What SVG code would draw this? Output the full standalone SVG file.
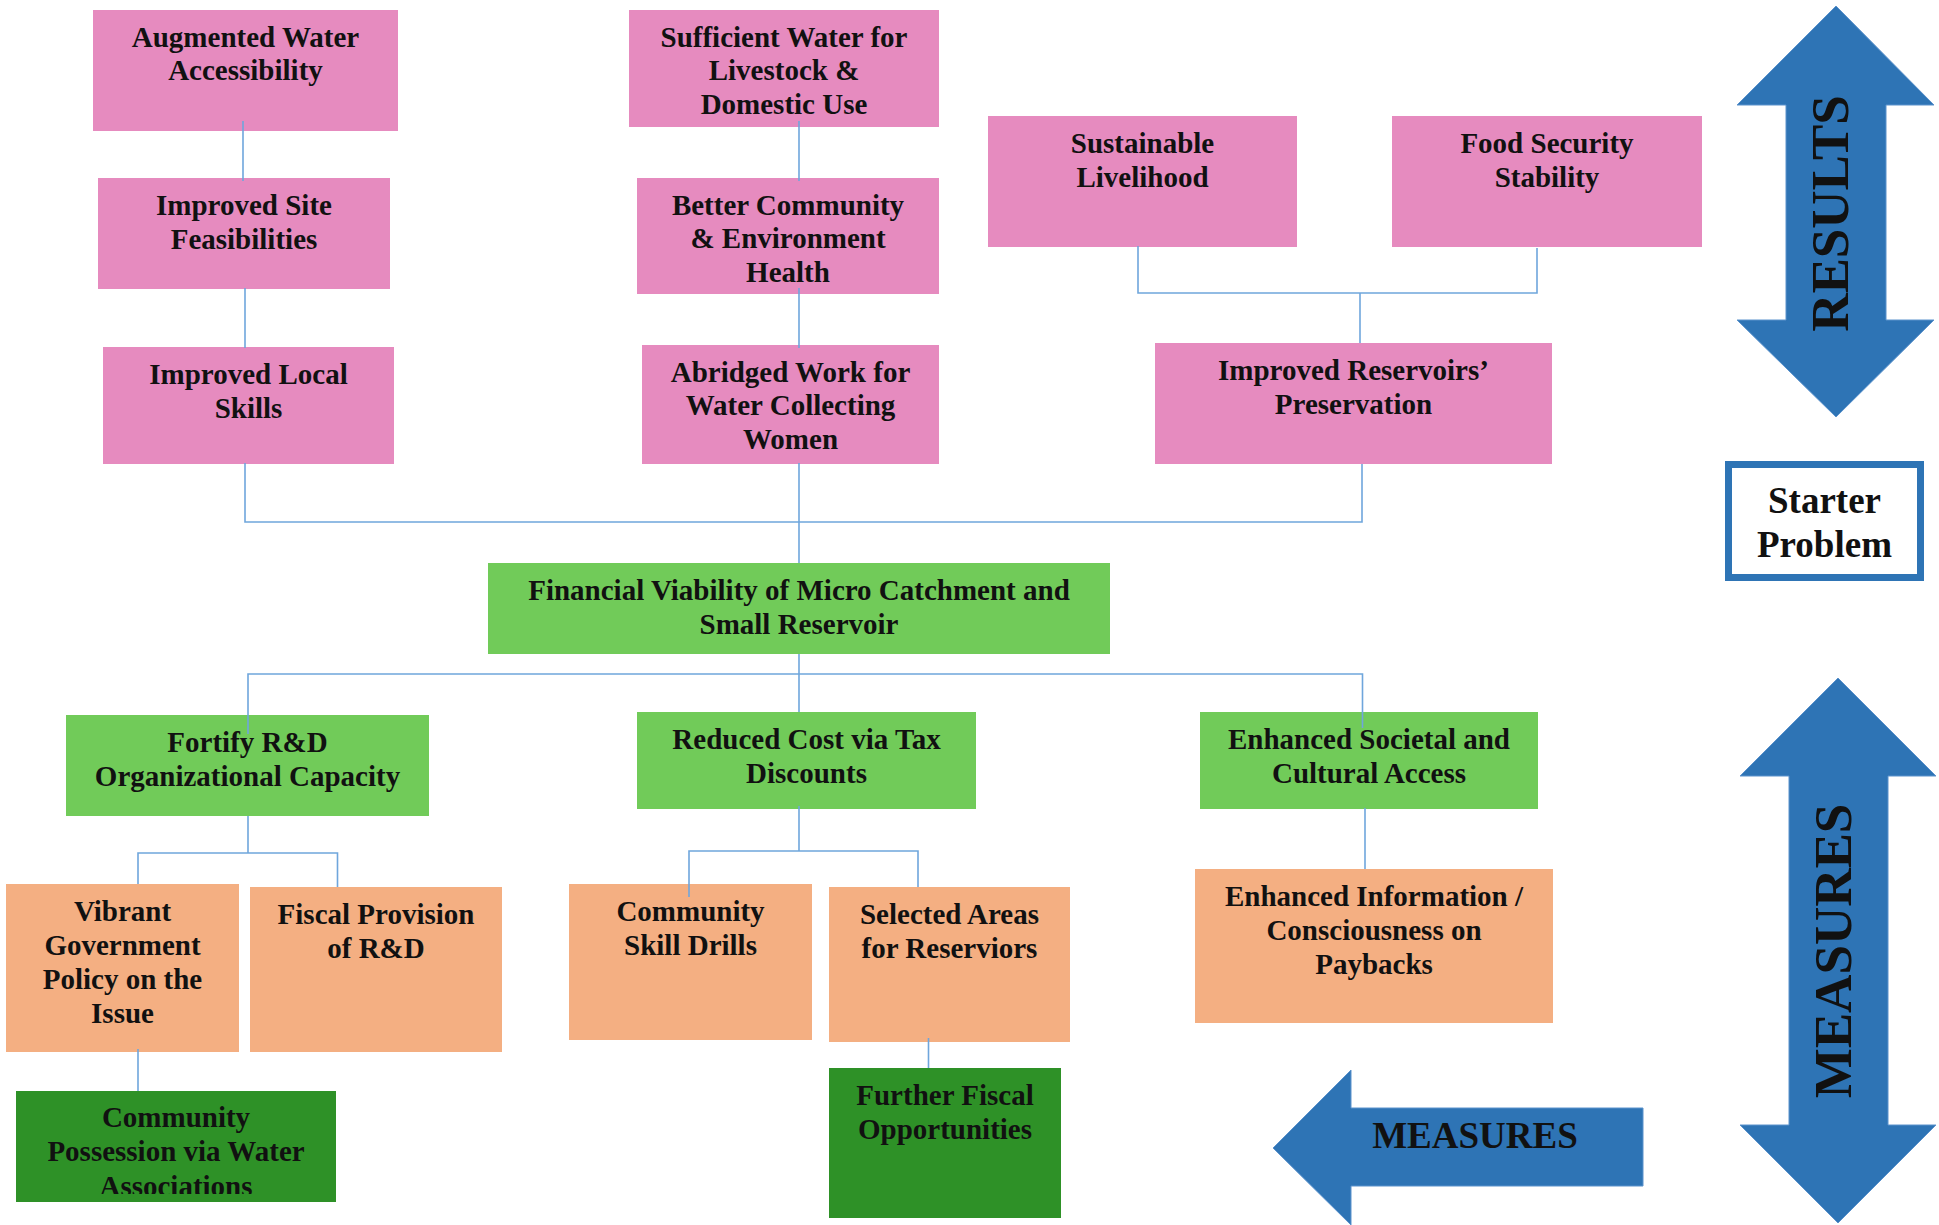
<svg xmlns="http://www.w3.org/2000/svg" width="1939" height="1225" viewBox="0 0 1939 1225">
  <style>
    .pink{fill:#E68BBF}
    .green{fill:#71CB59}
    .orange{fill:#F4AF82}
    .dgreen{fill:#2E9127}
    .lbl{font-family:"Liberation Serif","Times New Roman",serif;font-weight:bold;font-size:29px;fill:#111;text-anchor:middle}
    .arrow{fill:#2E74B5;stroke:#5B92CC;stroke-width:1}
    .big{font-family:"Liberation Serif","Times New Roman",serif;font-weight:bold;fill:#111;text-anchor:middle}
    .wire{fill:none;stroke:#6FA6DC;stroke-width:1.6}
  </style>
  <defs>
    <clipPath id="clipPossession"><rect x="16" y="1091" width="320" height="103"/></clipPath>
  </defs>
  <rect width="1939" height="1225" fill="#fff"/>

  <!-- results row -->
  <g id="augmented-water">
    <rect class="pink" x="93" y="10" width="305" height="121"/>
    <text class="lbl"><tspan x="245.5" y="46.5">Augmented Water</tspan><tspan x="245.5" y="80">Accessibility</tspan></text>
  </g>
  <g id="improved-site">
    <rect class="pink" x="98" y="178" width="292" height="111"/>
    <text class="lbl"><tspan x="244" y="214.5">Improved Site</tspan><tspan x="244" y="248.5">Feasibilities</tspan></text>
  </g>
  <g id="improved-skills">
    <rect class="pink" x="103" y="347" width="291" height="117"/>
    <text class="lbl"><tspan x="248.5" y="383.5">Improved Local</tspan><tspan x="248.5" y="417.5">Skills</tspan></text>
  </g>
  <g id="sufficient-water">
    <rect class="pink" x="629" y="10" width="310" height="117"/>
    <text class="lbl"><tspan x="784" y="46.5">Sufficient Water for</tspan><tspan x="784" y="80">Livestock &amp;</tspan><tspan x="784" y="113.5">Domestic Use</tspan></text>
  </g>
  <g id="better-community">
    <rect class="pink" x="637" y="178" width="302" height="116"/>
    <text class="lbl"><tspan x="788" y="214.5">Better Community</tspan><tspan x="788" y="248">&amp; Environment</tspan><tspan x="788" y="281.5">Health</tspan></text>
  </g>
  <g id="abridged-work">
    <rect class="pink" x="642" y="345" width="297" height="119"/>
    <text class="lbl"><tspan x="790.5" y="381.5">Abridged Work for</tspan><tspan x="790.5" y="415">Water Collecting</tspan><tspan x="790.5" y="448.5">Women</tspan></text>
  </g>
  <g id="sustainable-livelihood">
    <rect class="pink" x="988" y="116" width="309" height="131"/>
    <text class="lbl"><tspan x="1142.5" y="152.5">Sustainable</tspan><tspan x="1142.5" y="186.5">Livelihood</tspan></text>
  </g>
  <g id="food-security">
    <rect class="pink" x="1392" y="116" width="310" height="131"/>
    <text class="lbl"><tspan x="1547" y="152.5">Food Security</tspan><tspan x="1547" y="186.5">Stability</tspan></text>
  </g>
  <g id="reservoir-preservation">
    <rect class="pink" x="1155" y="343" width="397" height="121"/>
    <text class="lbl"><tspan x="1353.5" y="379.5">Improved Reservoirs’</tspan><tspan x="1353.5" y="413.5">Preservation</tspan></text>
  </g>

  <!-- core -->
  <g id="financial-viability">
    <rect class="green" x="488" y="563" width="622" height="91"/>
    <text class="lbl"><tspan x="799" y="599.5">Financial Viability of Micro Catchment and</tspan><tspan x="799" y="633.5">Small Reservoir</tspan></text>
  </g>

  <!-- measures -->
  <g id="fortify-rd">
    <rect class="green" x="66" y="715" width="363" height="101"/>
    <text class="lbl"><tspan x="247.5" y="751.5">Fortify R&amp;D</tspan><tspan x="247.5" y="785.5">Organizational Capacity</tspan></text>
  </g>
  <g id="reduced-cost">
    <rect class="green" x="637" y="712" width="339" height="97"/>
    <text class="lbl"><tspan x="806.5" y="748.5">Reduced Cost via Tax</tspan><tspan x="806.5" y="782.5">Discounts</tspan></text>
  </g>
  <g id="societal-access">
    <rect class="green" x="1200" y="712" width="338" height="97"/>
    <text class="lbl"><tspan x="1369" y="748.5">Enhanced Societal and</tspan><tspan x="1369" y="782.5">Cultural Access</tspan></text>
  </g>
  <g id="government-policy">
    <rect class="orange" x="6" y="884" width="233" height="168"/>
    <text class="lbl"><tspan x="122.5" y="920.5">Vibrant</tspan><tspan x="122.5" y="954.5">Government</tspan><tspan x="122.5" y="988.5">Policy on the</tspan><tspan x="122.5" y="1022.5">Issue</tspan></text>
  </g>
  <g id="fiscal-provision">
    <rect class="orange" x="250" y="887" width="252" height="165"/>
    <text class="lbl"><tspan x="376" y="923.5">Fiscal Provision</tspan><tspan x="376" y="957.5">of R&amp;D</tspan></text>
  </g>
  <g id="skill-drills">
    <rect class="orange" x="569" y="884" width="243" height="156"/>
    <text class="lbl"><tspan x="690.5" y="920.5">Community</tspan><tspan x="690.5" y="954.5">Skill Drills</tspan></text>
  </g>
  <g id="selected-areas">
    <rect class="orange" x="829" y="887" width="241" height="155"/>
    <text class="lbl"><tspan x="949.5" y="923.5">Selected Areas</tspan><tspan x="949.5" y="957.5">for Reserviors</tspan></text>
  </g>
  <g id="enhanced-information">
    <rect class="orange" x="1195" y="869" width="358" height="154"/>
    <text class="lbl"><tspan x="1374" y="905.5">Enhanced Information /</tspan><tspan x="1374" y="939.5">Consciousness on</tspan><tspan x="1374" y="973.5">Paybacks</tspan></text>
  </g>
  <g id="community-possession">
    <rect class="dgreen" x="16" y="1091" width="320" height="111"/>
    <text class="lbl" clip-path="url(#clipPossession)"><tspan x="176" y="1127">Community</tspan><tspan x="176" y="1161">Possession via Water</tspan><tspan x="176" y="1196">Associations</tspan></text>
  </g>
  <g id="further-fiscal">
    <rect class="dgreen" x="829" y="1068" width="232" height="150"/>
    <text class="lbl"><tspan x="945" y="1105">Further Fiscal</tspan><tspan x="945" y="1139">Opportunities</tspan></text>
  </g>

  <!-- legend -->
  <g id="starter-problem">
    <rect x="1728.5" y="464.5" width="192" height="113" fill="#fff" stroke="#2E74B5" stroke-width="7"/>
    <text class="big" font-size="37"><tspan x="1824.5" y="513">Starter</tspan><tspan x="1824.5" y="557">Problem</tspan></text>
  </g>
  <g id="results-arrow">
    <path class="arrow" d="M1836 6 L1934 105 L1886 105 L1886 320 L1934 320 L1836 417 L1737 320 L1786 320 L1786 105 L1737 105 Z"/>
    <text class="big" font-size="53" transform="translate(1848 213.5) rotate(-90)">RESULTS</text>
  </g>
  <g id="measures-vertical">
    <path class="arrow" d="M1838 678 L1936 776 L1888 776 L1888 1125 L1936 1125 L1838 1223 L1740 1125 L1789 1125 L1789 776 L1740 776 Z"/>
    <text class="big" font-size="53" transform="translate(1851 951) rotate(-90)">MEASURES</text>
  </g>
  <g id="measures-left">
    <path class="arrow" d="M1273 1148 L1351 1070 L1351 1108 L1643 1108 L1643 1186 L1351 1186 L1351 1225 Z"/>
    <text class="big" font-size="37" x="1475" y="1148">MEASURES</text>
  </g>

  <!-- connectors -->
  <g id="connectors" class="wire">
    <path d="M243 121 V181"/>
    <path d="M245 288 V348"/>
    <path d="M245 463 V522 H1362 V464"/>
    <path d="M799 121 V181"/>
    <path d="M799 288 V348"/>
    <path d="M799 463 V563"/>
    <path d="M1138 246 V293 H1537 V248"/>
    <path d="M1360 293 V343"/>
    <path d="M799 654 V712"/>
    <path d="M248 734 V674 H1362.5 V728"/>
    <path d="M248 816 V853"/>
    <path d="M138 884 V853 H337.5 V887"/>
    <path d="M138 1049 V1091"/>
    <path d="M799 806 V851"/>
    <path d="M689 897 V851 H918 V887"/>
    <path d="M928.5 1038 V1068"/>
    <path d="M1365 808 V869"/>
  </g>
</svg>
